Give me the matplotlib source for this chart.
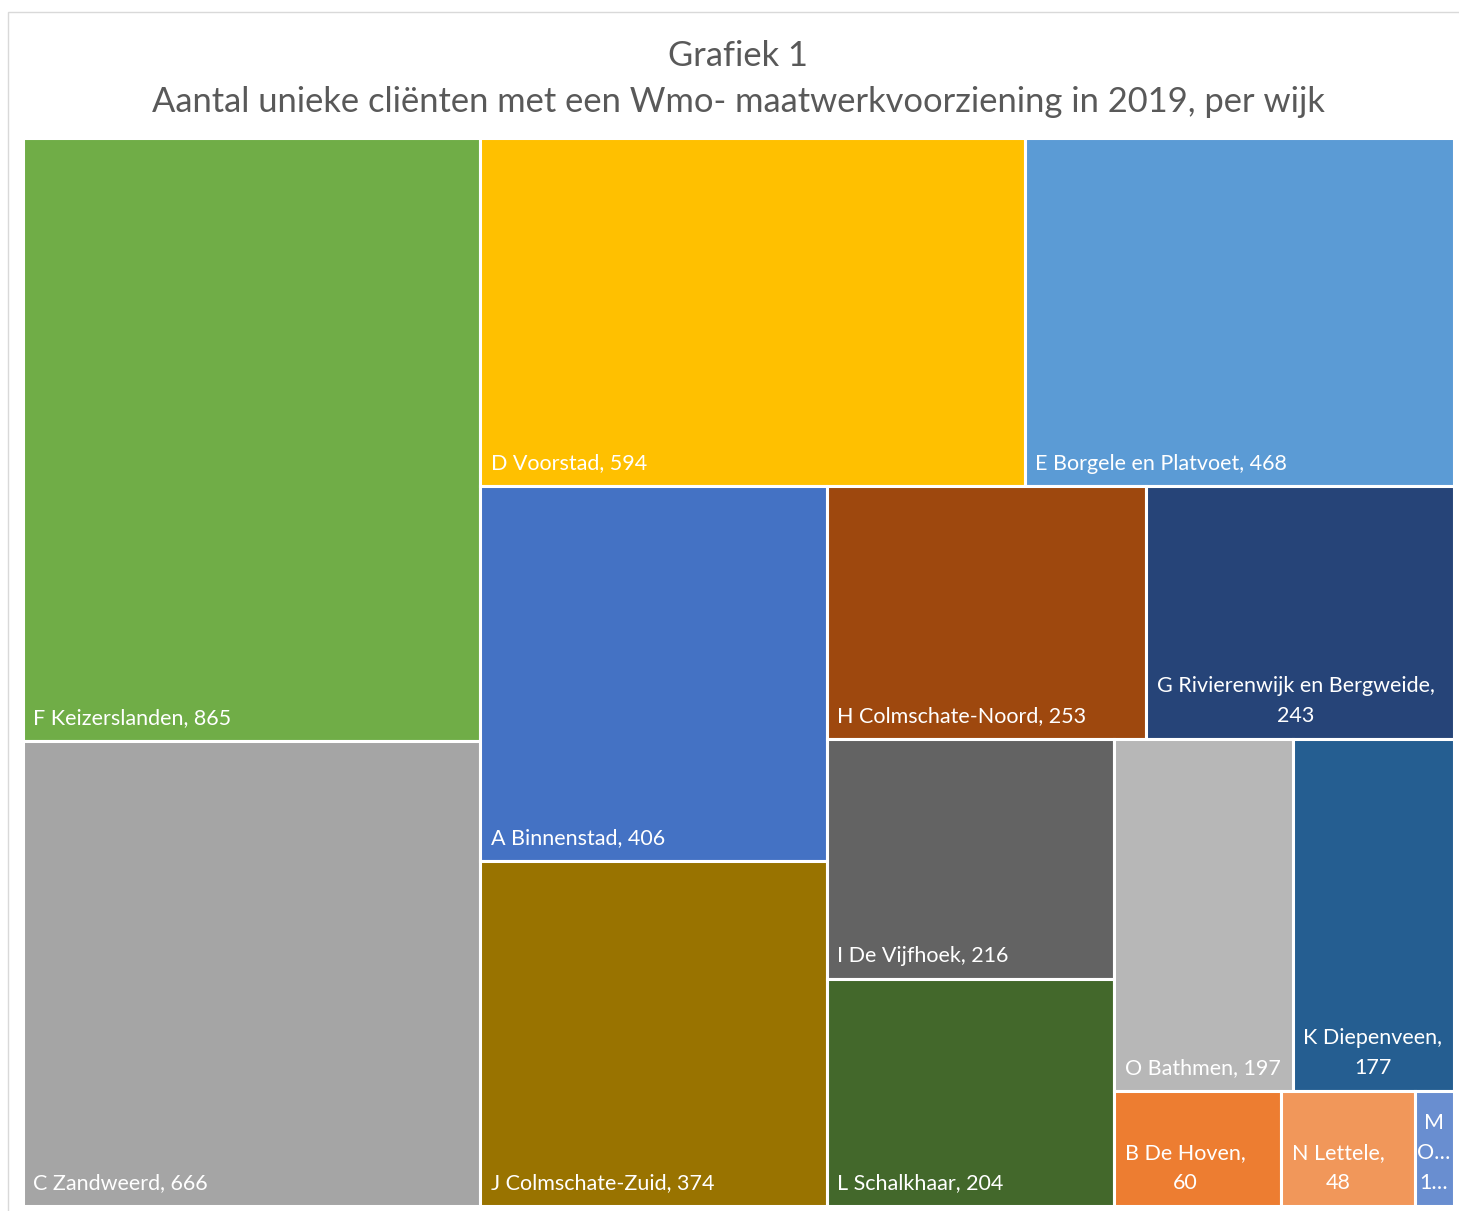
import matplotlib.pyplot as plt
from matplotlib.patches import Rectangle
from matplotlib.transforms import offset_copy

# Wmo-cliënten per wijk, gesorteerd van groot naar klein
wijken = ["F Keizerslanden", "C Zandweerd", "D Voorstad", "E Borgele en Platvoet",
          "A Binnenstad", "J Colmschate-Zuid", "H Colmschate-Noord",
          "G Rivierenwijk en Bergweide", "I De Vijfhoek", "L Schalkhaar",
          "O Bathmen", "K Diepenveen", "B De Hoven", "N Lettele", "M Okkenbroek"]
clienten = [865, 666, 594, 468, 406, 374, 253, 243, 216, 204, 197, 177, 60, 48, 14]
kleuren = ["#70AD47", "#A5A5A5", "#FFC000", "#5B9BD5", "#4472C4", "#997300",
           "#9E480E", "#264478", "#636363", "#43682B", "#B7B7B7", "#255E91",
           "#ED7D31", "#F1975A", "#698ED0"]
# aantal vakken per strook
stroken = [2, 2, 2, 2, 2, 2, 1, 1, 1]

titel = "Grafiek 1\nAantal unieke cliënten met een Wmo- maatwerkvoorziening in 2019, per wijk"

FONT = ["Lato", "DejaVu Sans"]
LABEL_SIZE = 15.5
W_PX, H_PX = 1459, 1211
DPI = 100


def treemap(values, groups, x, y, w, h):
    # strook langs de korte zijde, rest van het vlak blijft over
    rects = []
    rest = float(sum(values))
    i = 0
    for n in groups:
        part = values[i:i + n]
        s = float(sum(part))
        if w >= h:
            cw = w * s / rest
            yy = y
            for v in part:
                ch = h * v / s
                rects.append((x, yy, cw, ch))
                yy += ch
            x += cw
            w -= cw
        else:
            rh = h * s / rest
            xx = x
            for v in part:
                rw = w * v / s
                rects.append((xx, y, rw, rh))
                xx += rw
            y += rh
            h -= rh
        rest -= s
        i += n
    return rects


fig = plt.figure(figsize=(W_PX / DPI, H_PX / DPI), dpi=DPI)
renderer = fig.canvas.get_renderer()

# kaderlijn van de grafiek
fig.add_artist(Rectangle((7.5 / W_PX, -0.05), 1.1, 1 - 12 / H_PX + 0.05,
                         transform=fig.transFigure, fill=False,
                         edgecolor="#D9D9D9", linewidth=1.0))

fig.text(738 / W_PX, 1 - 79 / H_PX, titel, ha="center", va="center",
         fontsize=24.8, color="#595959", family=FONT, linespacing=1.56)

left, right, top, bottom = 22.5, 1453.5, 137.5, 1205.5
ax = fig.add_axes([left / W_PX, 1 - bottom / H_PX,
                   (right - left) / W_PX, (bottom - top) / H_PX])
aw, ah = right - left, bottom - top
ax.set_xlim(0, aw)
ax.set_ylim(ah, 0)
ax.axis("off")


def breedte(s):
    t = fig.text(0, 0, s, fontsize=LABEL_SIZE, family=FONT)
    b = t.get_window_extent(renderer).width
    t.remove()
    return b


def afbreken(tekst, ruimte):
    regels = []
    huidig = ""
    for woord in tekst.split(" "):
        probeer = (huidig + " " + woord).strip()
        if breedte(probeer) <= ruimte or not huidig:
            huidig = probeer
        else:
            regels.append(huidig)
            huidig = woord
    regels.append(huidig)
    kort = []
    for r in regels:
        if breedte(r) > ruimte:
            n = len(r) - 1
            while n > 1 and breedte(r[:n] + "…") > ruimte:
                n -= 1
            r = r[:n] + "…"
        kort.append(r)
    return kort


rects = treemap(clienten, stroken, 0, 0, aw, ah)
for (x, y, w, h), naam, n, kleur in zip(rects, wijken, clienten, kleuren):
    ax.add_patch(Rectangle((x, y), w, h, facecolor=kleur, edgecolor="white",
                           linewidth=2.2))
    ruimte = w - 3 - 14
    regels = afbreken(f"{naam}, {n}", ruimte)
    blok = max(breedte(r) for r in regels)
    if blok > ruimte:
        tx, dx, ha = x + w / 2, 0, "center"
    else:
        tx, dx, ha = x, 10.5, "left"
    tr = offset_copy(ax.transData, fig=fig, x=dx, y=12.5, units="dots")
    ax.text(tx, y + h, "\n".join(regels), transform=tr, ha=ha, va="bottom",
            multialignment="center", fontsize=LABEL_SIZE, color="white",
            family=FONT, linespacing=1.64)

fig.savefig("out.png", dpi=DPI, facecolor="white")
